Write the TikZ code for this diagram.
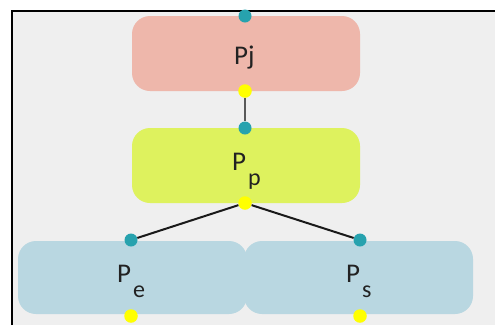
\documentclass[tikz,border=0pt]{standalone}
\usepackage{fontspec}
\setmainfont{Carlito}
\definecolor{bg}{HTML}{EFEFEF}
\definecolor{pjfill}{HTML}{EEB7AB}
\definecolor{ppfill}{HTML}{DEF25E}
\definecolor{blfill}{HTML}{B9D7E1}
\definecolor{tealdot}{HTML}{27A2AE}
\definecolor{yeldot}{HTML}{FFFF00}
\definecolor{txt}{HTML}{222222}
\begin{document}
\begin{tikzpicture}[x=1pt,y=-1pt,
  box/.style={rounded corners=18pt,inner sep=0pt},
  tdot/.style={circle,fill=tealdot,minimum size=13pt,inner sep=0pt},
  ydot/.style={circle,fill=yeldot,minimum size=13.5pt,inner sep=0pt},
  lbl/.style={anchor=base west,inner sep=0pt,font=\fontsize{27}{27}\selectfont,text=txt},
  conn/.style={line width=2pt}]
\useasboundingbox (0,0) rectangle (495,325);
\fill[bg] (13,11) rectangle (495,325);
\draw[line width=2pt] (12,325) -- (12,11) -- (495,11);
% boxes
\fill[pjfill,box] (132,16) rectangle (360,91);
\fill[ppfill,box] (132,128) rectangle (360,203);
\fill[blfill,box] (18,241) rectangle (247,314);
\fill[blfill,box] (244,241) rectangle (473,314);
% dots
\node[tdot] (t1) at (245,16) {};
\node[ydot] (y1) at (245,91) {};
\node[tdot] (t2) at (245,128) {};
\node[ydot] (y2) at (245,203) {};
\node[tdot] (t3) at (131,240) {};
\node[tdot] (t4) at (360,240) {};
\node[ydot] (y3) at (131,316) {};
\node[ydot] (y4) at (360,316) {};
% connectors
\draw[conn,color=black!65] (y1) -- (t2);
\draw[conn,color=black!90] (y2) -- (t3);
\draw[conn,color=black!90] (y2) -- (t4);
% labels
\node[lbl] (lj) at (234,64) {Pj};
\node[lbl] (lp) at (232,170) {P\hspace{2pt}\raisebox{-15pt}{\fontsize{24}{24}\selectfont p}};
\node[lbl] (le) at (117,282) {P\hspace{2pt}\raisebox{-15pt}{\fontsize{24}{24}\selectfont e}};
\node[lbl] (ls) at (346,282) {P\hspace{2pt}\raisebox{-15pt}{\fontsize{24}{24}\selectfont s}};
\end{tikzpicture}
\end{document}
